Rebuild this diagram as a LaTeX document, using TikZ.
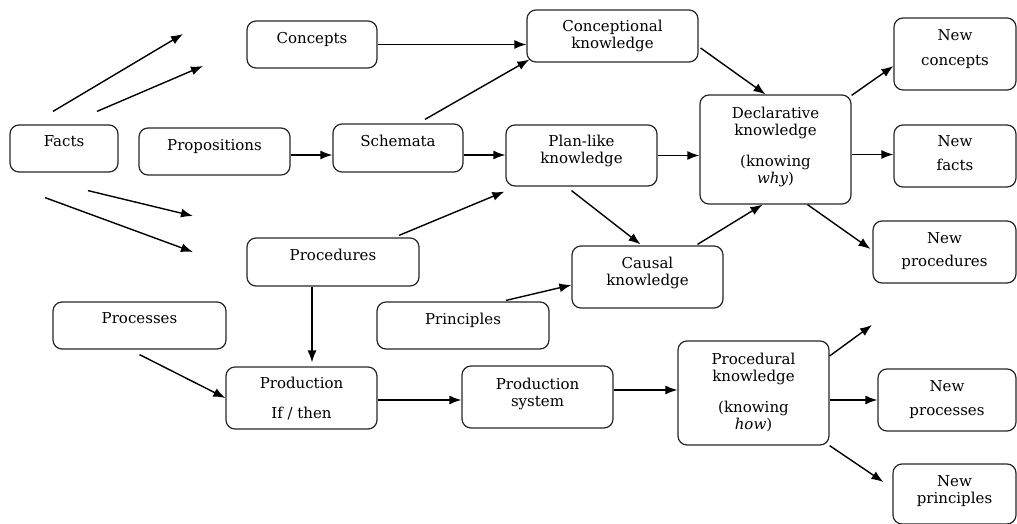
\documentclass[tikz,border=0pt]{standalone}
\usepackage{fontspec}
\setmainfont{DejaVu Serif}
\usetikzlibrary{arrows.meta}

\tikzset{
  kbox/.style 2 args={draw=black!85, line width=1.2pt, rounded corners=9pt,
    align=center, inner sep=2pt, minimum width=#1, minimum height=#2,
    font=\fontsize{15}{17}\selectfont},
  lift/.style={text depth=#1},
  arr/.style={-{Latex[length=12pt,width=9pt]}, line width=1.4pt}
}

\begin{document}
\begin{tikzpicture}[x=1pt,y=-1pt]
    \useasboundingbox (0,0) rectangle (1017,524);
    % inputs
    \node[kbox={108pt}{47pt},lift=14pt] (facts)     at (64,148.5)   {Facts};
    \node[kbox={151pt}{47pt},lift=14pt] (props)     at (214.5,151.5){Propositions};
    \node[kbox={130pt}{47pt},lift=14pt] (concepts)  at (312,44.5)   {Concepts};
    \node[kbox={130pt}{48pt},lift=14pt] (schemata)  at (398,148)    {Schemata};
    \node[kbox={172pt}{48pt},lift=14pt] (procs)     at (333,262)    {Procedures};
    \node[kbox={172pt}{47pt},lift=14pt] (princ)     at (463,325.5)  {Principles};
    \node[kbox={173pt}{47pt},lift=14pt] (processes) at (139.5,325.5){Processes};
    % knowledge
    \node[kbox={171pt}{52pt}]           (cknow)  at (612.5,36)  {Conceptional\\knowledge};
    \node[kbox={151pt}{61pt},lift=12pt] (plan)   at (581.5,155.5){Plan-like\\knowledge};
    \node[kbox={151pt}{62pt},lift=12pt] (causal) at (647.5,277) {Causal\\knowledge};
    \node[kbox={151pt}{109pt},lift=8pt] (decl)   at (775.5,149.5)
        {Declarative\\knowledge\\[14pt](knowing\\\textit{why})};
    \node[kbox={151pt}{62pt}]           (prod)   at (301.5,398) {Production\\[13pt]If / then};
    \node[kbox={151pt}{62pt},lift=10pt] (prodsys) at (537.5,397) {Production\\system};
    \node[kbox={151pt}{104pt},lift=4pt] (proced) at (753.5,393)
        {Procedural\\knowledge\\[14pt](knowing\\\textit{how})};
    % outputs
    \node[kbox={122pt}{72pt},lift=12pt] (newcon)   at (955,54)    {New\\[8pt]concepts};
    \node[kbox={122pt}{62pt},lift=6pt]  (newfacts) at (955,156)   {New\\[7pt]facts};
    \node[kbox={143pt}{62pt},lift=5pt]  (newproc)  at (944.5,252) {New\\[6pt]procedures};
    \node[kbox={138pt}{62pt},lift=4pt]  (newprocs) at (947,400)   {New\\[7pt]processes};
    \node[kbox={123pt}{60pt},lift=9pt]  (newprinc) at (954.5,494) {New\\principles};
    % free arrow ends
    \coordinate (f1) at (183,34);
    \coordinate (f2) at (203,66);
    \coordinate (f3) at (193,216);
    \coordinate (f4) at (193,252);
    \coordinate (p1) at (872,325);

    \draw[arr] ([xshift=-11pt,yshift=13pt]facts.north) -- (f1);
    \draw[arr] ([xshift=33pt,yshift=13pt]facts.north) -- (f2);
    \draw[arr] ([xshift=24pt,yshift=-18pt]facts.south) -- (f3);
    \draw[arr] ([xshift=-19pt,yshift=-25pt]facts.south) -- (f4);
    \draw[arr] (concepts.east) -- (concepts.east -| cknow.west);
    \draw[arr] ([xshift=27pt,yshift=4pt]schemata.north) -- ([shift={(3pt,3pt)}]cknow.south west);
    \draw[arr] ([yshift=-3.5pt]props.east) -- ([yshift=-3.5pt]props.east -| schemata.west);
    \draw[arr] ([yshift=-7pt]schemata.east) -- ([yshift=-7pt]schemata.east -| plan.west);
    \draw[arr] ([xshift=66pt,yshift=2pt]procs.north) -- ([shift={(-1pt,-5pt)}]plan.south west);
    \draw[arr] ([shift={(2pt,-12pt)}]cknow.east) -- ([xshift=-10pt]decl.north);
    \draw[arr] (plan.east) -- (plan.east -| decl.west);
    \draw[arr] ([xshift=-10pt,yshift=-4pt]plan.south) -- ([xshift=-7pt,yshift=1pt]causal.north);
    \draw[arr] ([xshift=50pt,yshift=1pt]causal.north) -- ([xshift=-13pt]decl.south);
    \draw[arr] ([yshift=-1pt]decl.north east) -- ([yshift=-12pt]newcon.west);
    \draw[arr] ([yshift=-5pt]decl.east) -- ([yshift=-5pt]decl.east -| newfacts.west);
    \draw[arr] ([xshift=32pt]decl.south) -- ([shift={(-2pt,3pt)}]newproc.west);
    \draw[arr] ([xshift=43pt,yshift=1pt]princ.north) -- ([yshift=-8pt]causal.west);
    \draw[arr] ([xshift=-21pt]procs.south) -- ([xshift=-21pt,yshift=4pt]procs.south |- prod.north);
    \draw[arr] ([yshift=-5pt]processes.south) -- (prod.west);
    \draw[arr] ([yshift=-2pt]prod.east) -- ([yshift=-2pt]prod.east -| prodsys.west);
    \draw[arr] ([yshift=7pt]prodsys.east) -- ([yshift=7pt]prodsys.east -| proced.west);
    \draw[arr] ([yshift=37pt]proced.east) -- (p1);
    \draw[arr] ([yshift=-7pt]proced.east) -- ([yshift=-7pt]proced.east -| newprocs.west);
    \draw[arr] (proced.south east) -- ([shift={(-9pt,12pt)}]newprinc.west);
\end{tikzpicture}
\end{document}
